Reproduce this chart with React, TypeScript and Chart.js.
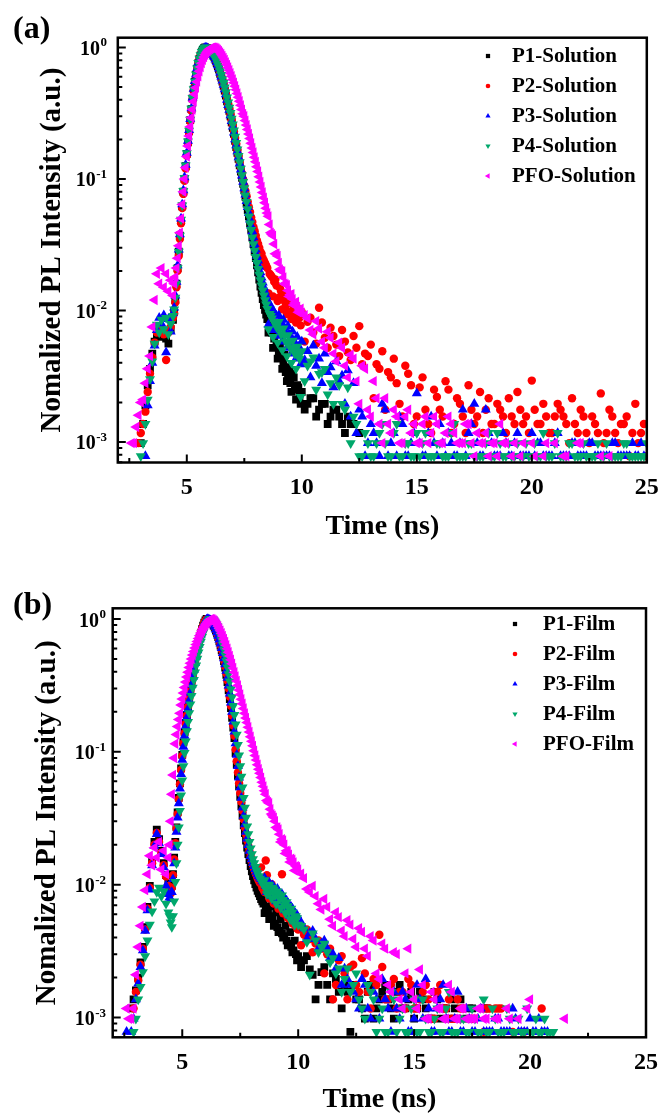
import React, { useEffect, useRef } from "react";
import { Chart, registerables } from "chart.js";

Chart.register(...registerables);

// ---------- quantised count levels of the photon-counting floor ----------
const _ = null;
const L4 = 0.00078;
const L5 = 0.00098;
const L6 = 0.00117;
const L7 = 0.00137;
const L8 = 0.00156;
const L9 = 0.00176;
const L10 = 0.00195;
const L11 = 0.00215;
const L12 = 0.00234;
const L15 = 0.00293;

// ---------- time channels (ns) ----------
const TIME = [
  2.6, 2.7, 2.8, 2.9, 3.0, 3.1, 3.2, 3.3, 3.4, 3.5, 3.6, 3.7, 3.8, 3.9, 4.0, 4.1, 4.2, 4.3, 4.4,
  4.45, 4.5, 4.55, 4.6, 4.65, 4.7, 4.75, 4.8, 4.85, 4.9,
  4.95, 5.0, 5.05, 5.1, 5.15, 5.2, 5.25, 5.3, 5.35, 5.4,
  5.45, 5.5, 5.55, 5.6, 5.65, 5.7, 5.75, 5.8, 5.85, 5.9,
  5.95, 6.0, 6.05, 6.1, 6.15, 6.2, 6.25, 6.3, 6.35, 6.4,
  6.45, 6.5, 6.55, 6.6, 6.65, 6.7, 6.75, 6.8, 6.85, 6.9,
  6.95, 7.0, 7.05, 7.1, 7.15, 7.2, 7.25, 7.3, 7.35, 7.4,
  7.45, 7.5, 7.55, 7.6, 7.65, 7.7, 7.75, 7.8, 7.85, 7.9,
  7.95, 8.0, 8.05, 8.1, 8.15, 8.2, 8.25, 8.3, 8.35, 8.4,
  8.45, 8.5,
  8.6, 8.7, 8.8, 8.9, 9.0, 9.1, 9.2, 9.3, 9.4, 9.5, 9.6, 9.7, 9.8, 9.9, 10.0,
  10.25, 10.5, 10.75, 11.0, 11.25, 11.5, 11.75, 12.0, 12.25, 12.5,
  12.75, 13.0, 13.25, 13.5, 13.75, 14.0, 14.25, 14.5, 14.75, 15.0,
  15.25, 15.5, 15.75, 16.0, 16.25, 16.5, 16.75, 17.0, 17.25, 17.5,
  17.75, 18.0, 18.25, 18.5, 18.75, 19.0, 19.25, 19.5, 19.75, 20.0,
  20.25, 20.5, 20.75, 21.0, 21.25, 21.5, 21.75, 22.0, 22.25, 22.5,
  22.75, 23.0, 23.25, 23.5, 23.75, 24.0, 24.25, 24.5, 24.75, 25.0,
];
// interleaved channels (between the ones above) in the decay and the tail
const TIME_EXTRA = [
  8.55, 8.65, 8.75, 8.85, 8.95, 9.05, 9.15, 9.25, 9.35, 9.45, 9.55, 9.65, 9.75, 9.85, 9.95,
  10.125, 10.375, 10.625, 10.875, 11.125, 11.375, 11.625, 11.875, 12.125, 12.375,
  12.625, 12.875, 13.125, 13.375, 13.625, 13.875, 14.125, 14.375, 14.625, 14.875,
  15.125, 15.375, 15.625, 15.875, 16.125, 16.375, 16.625, 16.875, 17.125, 17.375,
  17.625, 17.875, 18.125, 18.375, 18.625, 18.875, 19.125, 19.375, 19.625, 19.875,
  20.125, 20.375, 20.625, 20.875, 21.125, 21.375, 21.625, 21.875, 22.125, 22.375,
  22.625, 22.875, 23.125, 23.375, 23.625, 23.875, 24.125, 24.375, 24.625, 24.875,
];

// ---------- panel (a): solutions ----------
const P1_SOLUTION = [
  _, _, _, _, L5, L7, .0019, .0027, .0036, .0047, .0058, .0066, .0072, .0063, .0068, .0061, .0056, .0072, .0085,
  .0098, .012, .016, .021, .028, .037, .048, .062, .08, .1,
  .125, .155, .19, .23, .28, .34, .41, .48, .55, .62,
  .69, .76, .82, .87, .92, .96, .99, 1, .995, .985,
  .97, .95, .93, .9, .87, .84, .8, .76, .72, .68,
  .63, .59, .55, .51, .47, .43, .39, .36, .33, .3,
  .27, .245, .22, .195, .175, .158, .142, .127, .114, .102,
  .092, .082, .073, .065, .058, .052, .046, .041, .036, .032,
  .028, .025, .022, .0195, .0172, .0152, .0136, .0122, .011, .0101,
  .0093, .0086,
  .0076, .0068, .0061, .0055, .0049, .0044, .004, .0034, .0031, .0028, .0033, .0025, .0027, .0022, .0024,
  L10, L11, L9, L10, L8, L9, L7, L8, L7, L6,
  _, _, _, _, _, _, _, _, _, _,
  _, _, _, _, _, _, _, _, _, _,
  _, _, _, _, _, _, _, _, _, _,
  _, _, _, _, _, _, _, _, _, _,
  _, _, _, _, _, _, _, _, _, _,
];
const P1_SOLUTION_X = [
  .0068, .0082, .0052, .0066, .0043, .0055, .0036, .0046, .0029, .0037, .0024, .0031, .0021, .0026, L10,
  L9, L11, L8, L10, L7, L9, L8, L6, L7, _,
  _, _, _, _, _, _, _, _, _, _,
  _, _, _, _, _, _, _, _, _, _,
  _, _, _, _, _, _, _, _, _, _,
  _, _, _, _, _, _, _, _, _, _,
  _, _, _, _, _, _, _, _, _, _,
];
const P2_SOLUTION = [
  _, _, _, L5, L6, L7, .0017, .0024, .0033, .0044, .0057, .0068, .0075, .0071, .0066, .0042, .0068, .0075, .0088,
  .0095, .0115, .015, .02, .026, .035, .046, .06, .077, .097,
  .12, .15, .185, .225, .275, .33, .4, .47, .54, .61,
  .68, .75, .81, .865, .91, .95, .98, .995, 1, .99,
  .975, .955, .935, .91, .88, .85, .81, .77, .73, .69,
  .645, .6, .56, .52, .48, .44, .4, .37, .34, .31,
  .28, .255, .23, .205, .185, .167, .15, .135, .122, .11,
  .099, .089, .081, .074, .067, .061, .056, .051, .047, .043,
  .04, .037, .034, .032, .03, .028, .027, .025, .024, .023,
  .022, .021,
  .019, .018, .0165, .0155, .0125, .014, .012, .0108, .0125, .0098, .0112, .0092, .0105, .0088, .0097,
  .0082, .0068, .0105, .0062, .0074, .0055, .0071, .0048, .0064, .0076,
  .0047, .0055, .0039, .0049, .0034, .0043, L10, .0038, .0027, L8,
  .0031, L7, .0025, L9, .0029, L6, L11, L8, .0027, L7,
  .0024, L9, L7, L10, L8, L11, L7, L9, L8, L15,
  L7, L10, L6, L8, L9, L7, L11, L6, L8, L5,
  L7, L12, L6, L8, L5, L7, L4, L10, L6, L4,
];
const P2_SOLUTION_X = [
  .0135, .0185, .0128, .0172, .0118, .0148, .0102, .013, .0094, .0118, .0086, .0108, .0081, .0099, .0077,
  .0058, .0088, .0056, .0081, .0052, .0064, .0045, .0058, .0042, .0052,
  .0039, .0045, L11, .0036, L9, .0031, .0028, L8, .0033, L7,
  .0026, L9, L6, .0022, L8, .0025, L7, L10, L6, L9,
  L8, L6, L11, L7, L9, L6, L8, .0024, L7, L6,
  L9, L7, L8, L6, L10, L8, L5, L7, L9, L6,
  L8, L6, L5, L9, L6, L7, L8, L6, L5, L7,
];
const P3_SOLUTION = [
  _, _, _, _, _, _, L4, .0019, .0029, .004, .0054, .0071, .0088, .0079, .0092, .0048, .0086, .0069, .0095,
  .0105, .013, .0165, .022, .029, .038, .05, .064, .082, .103,
  .128, .158, .195, .235, .285, .345, .415, .485, .555, .625,
  .695, .765, .825, .875, .925, .96, .985, 1, .995, .985,
  .97, .952, .93, .905, .875, .845, .81, .77, .73, .69,
  .645, .6, .56, .52, .48, .44, .4, .365, .335, .305,
  .275, .25, .225, .2, .18, .162, .146, .131, .118, .106,
  .095, .085, .076, .068, .061, .055, .049, .044, .04, .036,
  .032, .029, .026, .024, .0215, .0195, .0178, .0163, .015, .0139,
  .0129, .012,
  .0112, .0104, .0097, .0091, .0092, .0078, .0085, .0068, .0076, .0062, .0069, .0056, .0063, .0052, .0058,
  .0049, .0054, .0043, .0047, .0037, .0041, .0032, .0035, .0028, L9,
  L4, L7, L5, L10, L4, L6, L8, L4, L5, L12,
  L4, L6, L5, L7, L4, L5, L4, L9, L6, L10,
  L4, L9, L5, L4, L6, L4, L5, L4, L4, L6,
  L5, L4, L4, L5, L4, L4, L5, L4, L4, L5,
  L4, L4, L4, L5, L4, L4, L4, L4, L5, L4,
];
const P3_SOLUTION_X = [
  .0078, .0101, .0071, .0092, .0064, .0083, .0058, .0074, .0052, .0066, .0047, .0059, .0043, .0053, .0039,
  .0042, .0031, .0038, .0028, .0034, .0026, .0029, L10, L8, L6,
  L8, L5, L6, L4, L9, L5, L4, L7, L4, L6,
  L5, L4, L8, L4, L5, L6, L4, L5, L4, L7,
  L5, L4, L6, L4, L4, L5, L4, L6, L4, L4,
  L4, L5, L4, L4, L6, L4, L4, L5, L4, L4,
  L5, L4, L4, L4, L5, L4, L4, L5, L4, L4,
];
const P4_SOLUTION = [
  _, _, _, _, L4, L5, L7, .0021, .003, .0041, .0056, .0078, .0068, .0085, .0072, .0088, .0066, .0079, .0091,
  .0102, .0125, .016, .021, .028, .037, .049, .063, .081, .102,
  .127, .157, .193, .233, .283, .343, .413, .483, .553, .623,
  .693, .763, .823, .875, .925, .962, .988, 1, .997, .988,
  .975, .958, .937, .912, .884, .853, .82, .783, .745, .705,
  .662, .62, .578, .537, .497, .457, .418, .382, .349, .318,
  .288, .26, .234, .21, .188, .168, .15, .134, .12, .107,
  .095, .085, .075, .067, .059, .052, .046, .041, .036, .032,
  .0285, .0255, .023, .0207, .0187, .017, .0155, .0142, .013, .012,
  .0111, .0103,
  .0094, .0087, .0081, .0075, .0082, .0066, .0073, .0058, .0065, .0052, .0059, .0047, .0053, .0043, .0049,
  .0038, .0044, .0033, .0036, .0028, .0031, L10, .0026, L8, L4,
  L6, L4, L5, L7, L4, L6, L4, L5, L4, L6,
  L5, L4, L4, L5, L4, L6, L4, L4, L5, L4,
  L4, L5, L4, L6, L4, L5, L4, L4, L5, L4,
  L4, L6, L4, L5, L4, L4, L5, L4, L5, L4,
  L4, L4, L5, L4, L4, L5, L4, L4, L4, L5,
];
const P4_SOLUTION_X = [
  .0072, .0091, .0063, .0082, .0057, .0072, .005, .0064, .0045, .0057, .004, .0051, .0036, .0046, .0022,
  .0029, .0041, .0025, .0034, .0023, L10, .0027, L9, L5, L7,
  L4, L5, L4, L6, L5, L4, L7, L4, L5, L4,
  L4, L6, L4, L5, L4, L4, L7, L4, L4, L5,
  L4, L4, L6, L4, L5, L4, L4, L5, L4, L4,
  L5, L4, L4, L4, L6, L4, L5, L4, L4, L4,
  L4, L5, L4, L4, L4, L4, L5, L4, L4, L4,
];
const PFO_SOLUTION = [
  L5, L5, .0013, .0016, .002, .0021, .0028, .0036, .0045, .0075, .012, .019, .016, .021, .015, .019, .014, .017, .013,
  .016, .018, .021, .025, .031, .039, .05, .064, .08, .1,
  .122, .148, .178, .212, .25, .292, .338, .388, .44, .495,
  .55, .605, .66, .71, .76, .805, .845, .88, .91, .935,
  .957, .975, .988, .996, 1, .998, .99, .978, .962, .942,
  .918, .892, .864, .834, .803, .771, .738, .705, .672, .638,
  .605, .572, .54, .508, .477, .447, .418, .39, .363, .337,
  .313, .3, .278, .257, .238, .22, .203, .187, .172, .159,
  .146, .135, .124, .114, .104, .095, .087, .079, .072, .066,
  .06, .055,
  .045, .038, .032, .027, .023, .02, .0178, .0158, .0142, .0132, .0122, .0114, .0107, .0101, .0096,
  .0087, .0066, .0073, .0052, .0062, .0041, .0052, .0031, .0043, L10,
  .0036, L8, L11, L5, L7, L9, L5, L8, L6, L5,
  L7, L5, L8, L5, L6, L7, L5, L5, L7, L4,
  L5, L6, L5, L4, L5, _, L5, L4, _, L5,
  _, L4, _, L5, _, L4, _, L5, _, _,
  _, L4, _, _, _, _, _, _, _, _,
];
const PFO_SOLUTION_X = [
  .052, .039, .037, .027, .026, .0205, .0198, .016, .0156, .0128, .0133, .011, .0116, .0097, .0103,
  .0092, .0071, .0083, .0058, .0069, .0047, .0057, .0038, .0046, .0029,
  .0038, L9, .0029, L7, L11, L6, L8, L5, L9, L7,
  L5, L8, L6, L7, L5, L8, L6, L5, L7, L5,
  L6, L5, L4, L5, L7, L5, L4, _, L5, _,
  L4, _, L5, _, _, L4, _, _, L5, _,
  _, _, _, L4, _, _, _, _, _, _,
];

// ---------- panel (b): films ----------
const P1_FILM = [
  _, _, L6, L7, .0016, .002, .0026, .0034, .0048, .0068, .0098, .015, .021, .026, .022, .018, .0145, .0118, .0102,
  .0093, .0089, .0098, .012, .016, .021, .027, .035, .045, .058,
  .075, .095, .118, .14, .165, .19, .22, .255, .29, .335,
  .38, .43, .48, .54, .6, .66, .72, .78, .84, .89,
  .94, .975, 1, .995, .985, .97, .95, .925, .895, .86,
  .82, .775, .73, .68, .63, .58, .53, .48, .43, .38,
  .335, .29, .25, .213, .18, .152, .127, .098, .08, .066,
  .055, .046, .039, .033, .028, .0245, .0215, .019, .017, .0153,
  .0138, .0126, .0116, .0108, .0101, .0095, .009, .0086, .0082, .0078,
  .0075, .0072,
  .0068, .0062, .0058, .0055, .0051, .0048, .0045, .0043, .0041, .0038, .0036, .0034, .0032, .003, .0029,
  .0027, .0023, L7, .0022, L9, L11, L8, L9, L4, L7,
  L6, L8, L5, L7, L9, L6, L8, L6, L7, L5,
  L8, L6, L5, L7, L6, L5, L6, L7, L5, L6,
  _, L6, _, _, _, _, _, _, _, _,
  _, _, _, _, _, _, _, _, _, _,
  _, _, _, _, _, _, _, _, _, _,
];
const P1_FILM_X = [
  .0061, .0079, .0055, .0069, .0049, .0062, .0044, .0055, .004, .0049, .0035, .0044, .0031, .0038, .0027,
  .0024, .0029, .0021, L9, .0024, L7, L10, L6, L8, L9,
  L7, L5, L9, L6, L8, L7, L5, L9, L6, L8,
  L6, L7, L5, L8, L5, L6, L7, L5, _, L6,
  _, _, L6, _, _, _, _, _, _, _,
  _, _, _, _, _, _, _, _, _, _,
  _, _, _, _, _, _, _, _, _, _,
];
const P2_FILM = [
  _, _, _, L6, L8, .0019, .0025, .0033, .0046, .0066, .0095, .0145, .02, .0245, .021, .0175, .014, .0115, .0098,
  .009, .0086, .0095, .0118, .0155, .0205, .0265, .034, .044, .057,
  .073, .093, .116, .138, .163, .188, .218, .252, .288, .332,
  .377, .427, .477, .537, .597, .657, .717, .777, .837, .887,
  .937, .972, .998, 1, .99, .975, .955, .93, .9, .866,
  .827, .783, .738, .689, .64, .59, .54, .49, .44, .39,
  .345, .3, .26, .222, .188, .158, .132, .104, .085, .07,
  .058, .049, .042, .036, .031, .027, .024, .0215, .0195, .0178,
  .0163, .015, .014, .0131, .0124, .0118, .0112, .0107, .0103, .0135,
  .0095, .0092,
  .0152, .0085, .0082, .0079, .0076, .0072, .0069, .012, .0063, .006, .0057, .0054, .0051, .0049, .0046,
  .0042, .0039, .0036, .0033, .003, L7, .0027, L11, .0024, L9,
  .0028, L8, L10, .0042, L7, L9, L6, L8, L10, L6,
  L7, L9, L5, L8, L6, L7, L5, L6, _, L5,
  _, L4, L6, L6, L6, _, L4, _, L4, _,
  _, L6, _, _, _, _, _, _, _, _,
  _, _, _, _, _, _, _, _, _, _,
];
const P2_FILM_X = [
  .0088, .0118, .0079, .0101, .0072, .0089, .0066, .0081, .0061, .0073, .0056, .0066, .0051, .0059, .0047,
  .0035, .0046, .0031, .0038, L11, .0033, L9, .0029, L7, .0025,
  L8, L11, L6, L9, .0024, L7, L10, L8, L6, L9,
  L6, L8, L7, L5, L9, L6, L5, L7, L6, _,
  L5, _, L6, _, L6, _, _, _, _, _,
  _, _, _, _, _, _, _, _, _, _,
  _, _, _, _, _, _, _, _, _, _,
];
const P3_FILM = [
  L4, _, L4, L5, L7, .0018, .0024, .0032, .0045, .0064, .0092, .014, .0195, .024, .0205, .017, .0135, .0098, .0085,
  .008, .0078, .0088, .011, .0145, .019, .025, .032, .041, .053,
  .068, .087, .109, .132, .156, .181, .21, .243, .278, .32,
  .365, .414, .465, .522, .582, .642, .703, .763, .823, .875,
  .927, .965, .992, 1, .993, .978, .958, .934, .905, .872,
  .834, .792, .748, .7, .652, .603, .554, .505, .456, .407,
  .36, .315, .274, .235, .2, .169, .142, .116, .095, .078,
  .064, .054, .045, .038, .033, .0285, .025, .0222, .0199, .018,
  .0164, .0155, .0146, .0138, .0131, .0125, .012, .0116, .0113, .011,
  .0107, .0104,
  .0098, .0105, .0092, .0099, .0087, .0093, .008, .0085, .0072, .0076, .0064, .0068, .0057, .006, .0051,
  .0047, .0043, .0039, .0036, .0033, .003, .0028, L12, L9, L7,
  L10, L6, L8, L5, L7, L4, L6, L8, L4, L5,
  L7, L10, L4, L6, L9, L4, L5, L4, L6, L4,
  L5, L4, L4, L5, L4, L4, L6, L4, L4, L5,
  L4, L4, L4, _, _, _, _, _, _, _,
  _, _, _, _, _, _, _, _, _, _,
];
const P3_FILM_X = [
  .0112, .0088, .0104, .0082, .0096, .0075, .0089, .007, .0081, .0064, .0073, .0058, .0066, .0053, .0059,
  .0052, .0039, .0045, .0033, .0038, .0028, L12, L9, L10, L8,
  L6, L9, L5, L7, L10, L6, L8, L5, L7, L4,
  L9, L5, L6, L4, L7, L5, L4, L8, L4, L5,
  L4, L6, L4, L4, L5, L4, L4, L5, L4, L4,
  L4, L5, L4, _, _, _, _, _, _, _,
  _, _, _, _, _, _, _, _, _, _,
];
const P4_FILM = [
  _, _, _, L4, L5, L7, .0017, .0022, .0029, .0038, .005, .0063, .0075, .0088, .0095, .0082, .0089, .0072, .0062,
  .0058, .0052, .0048, .0058, .0075, .0105, .0145, .02, .027, .036,
  .047, .061, .078, .098, .12, .143, .168, .196, .228, .264,
  .304, .348, .396, .448, .503, .56, .618, .676, .733, .787,
  .837, .882, .92, .952, .976, .992, 1, .995, .98, .955,
  .923, .885, .842, .795, .745, .693, .64, .587, .534, .482,
  .432, .384, .339, .297, .258, .222, .19, .161, .135, .113,
  .094, .078, .065, .054, .045, .038, .032, .0275, .024, .021,
  .0188, .017, .0156, .0145, .0136, .0128, .0122, .0116, .0111, .0107,
  .0103, .0099,
  .0094, .01, .0088, .0095, .0083, .0089, .0078, .0083, .007, .0074, .0062, .0066, .0055, .0058, .005,
  .0046, .0021, .0038, .0034, .0031, .0028, L12, L10, L8, L11,
  L6, L9, L7, L5, L4, L8, L4, L6, L4, L7,
  L4, L5, L4, L6, L4, L8, L4, L5, L4, L6,
  L4, L7, L4, L5, L4, L6, L4, L5, L4, L4,
  L5, L4, L4, L4, _, _, _, _, _, _,
  _, _, _, _, _, _, _, _, _, _,
];
const P4_FILM_X = [
  .0108, .0085, .0099, .0079, .0092, .0072, .0085, .0067, .0077, .0061, .0069, .0055, .0062, .005, .0056,
  .0049, .0037, .0043, .0031, .0036, .0026, L11, L8, L12, L9,
  L7, L5, L8, L4, L6, L4, L7, L5, L4, L6,
  L4, L7, L4, L5, L4, L6, L4, L4, L5, L4,
  L5, L4, L4, L6, L4, L4, L5, L4, L4, L6,
  L4, L4, L5, L4, _, _, _, _, _, _,
  _, _, _, _, _, _, _, _, _, _,
];
const PFO_FILM = [
  L6, L5, L5, L6, .0021, .0034, .0049, .0068, .0091, .012, .0165, .014, .019, .016, .021, .013, .018, .012, .016,
  .02, .03, .048, .067, .09, .115, .135, .155, .175, .195,
  .225, .25, .277, .305, .335, .366, .398, .431, .465, .5,
  .535, .57, .606, .642, .678, .714, .749, .783, .816, .847,
  .876, .903, .928, .951, .972, .99, 1, .995, .983, .967,
  .94, .912, .882, .85, .816, .781, .745, .708, .671, .634,
  .598, .562, .527, .493, .46, .428, .398, .369, .342, .316,
  .292, .27, .249, .23, .212, .195, .18, .166, .153, .141,
  .13, .12, .111, .102, .094, .087, .08, .074, .069, .064,
  .059, .055,
  .048, .042, .037, .033, .03, .027, .024, .022, .02, .018, .0168, .0157, .0147, .0138, .013,
  .0112, .0088, .0082, .0065, .0068, .0049, .0057, .0041, .005, .0034,
  .0044, .0029, .0038, L10, .0033, L8, .003, L6, .0033, L7,
  .0023, L5, L8, L6, L5, L9, L5, L6, L5, L5,
  L6, L5, _, L5, _, L6, _, L5, _, L7,
  _, _, _, _, _, L5, _, _, _, _,
  _, _, _, _, _, _, _, _, _, _,
];
const PFO_FILM_X = [
  .051, .043, .041, .034, .032, .027, .026, .021, .0215, .0172, .0178, .0148, .0154, .0128, .0136,
  .0121, .0093, .0098, .0072, .0078, .0055, .0062, .0045, .0054, .0039,
  .0047, .0033, .0041, L11, .0036, L9, .0031, L7, L11, L8,
  L6, L9, L5, L7, L6, L5, L8, L5, L6, L5,
  L5, L6, L5, _, L5, _, L5, _, _, L6,
  _, _, _, _, _, _, _, _, _, _,
  _, _, _, _, _, _, _, _, _, _,
];

const NAMES_A = ["P1-Solution", "P2-Solution", "P3-Solution", "P4-Solution", "PFO-Solution"];
const NAMES_B = ["P1-Film", "P2-Film", "P3-Film", "P4-Film", "PFO-Film"];
const X_MAJOR_TICKS = [5, 10, 15, 20, 25];
const X_MINOR_TICKS = [2.5, 7.5, 12.5, 17.5, 22.5];
const Y_DECADES = [-3, -2, -1, 0];
const X_TITLE = "Time (ns)";
const Y_TITLE = "Nomalized PL Intensity (a.u.)";

// ---------- styles ----------
const COLORS = ["#000000", "#ff0000", "#0000ff", "#00a86b", "#ff00ff"];
const POINT_STYLES = ["rect", "circle", "triangle", "triangle", "triangle"];
const POINT_ROTATIONS = [0, 0, 0, 180, 270];
const POINT_RADII = [5.5, 4.2, 5.8, 5.8, 6];
const LEGEND_RADII = [3, 2.3, 3, 3, 3.2];
const FONT = '"Liberation Serif", "Times New Roman", Times, serif';

type PanelConfig = {
  height: number;
  area: { left: number; top: number; right: number; bottom: number };
  yMin: number;
  yMax: number;
  label: string;
  labelBaseline: number;
  names: string[];
  series: (number | null)[][];
  extra: (number | null)[][];
  legendMarkerX: number;
  legendTextX: number;
  legendY0: number;
  yTitleBaseX: number;
  yTickRight: number;
  xTickLabelDy: number;
  xTitleDy: number;
};

const PANEL_A: PanelConfig = {
  height: 555,
  area: { left: 117.8, top: 37.7, right: 646.8, bottom: 462.5 },
  yMin: 6.98e-4,
  yMax: 1.187,
  label: "(a)",
  labelBaseline: 38,
  names: NAMES_A,
  series: [P1_SOLUTION, P2_SOLUTION, P3_SOLUTION, P4_SOLUTION, PFO_SOLUTION],
  extra: [P1_SOLUTION_X, P2_SOLUTION_X, P3_SOLUTION_X, P4_SOLUTION_X, PFO_SOLUTION_X],
  legendMarkerX: 488,
  legendTextX: 512,
  legendY0: 56,
  yTitleBaseX: 60,
  yTickRight: 107,
  xTickLabelDy: 25.5,
  xTitleDy: 64,
};

const PANEL_B: PanelConfig = {
  height: 560,
  area: { left: 112.7, top: 53.3, right: 646, bottom: 482.3 },
  yMin: 7.1e-4,
  yMax: 1.204,
  label: "(b)",
  labelBaseline: 59,
  names: NAMES_B,
  series: [P1_FILM, P2_FILM, P3_FILM, P4_FILM, PFO_FILM],
  extra: [P1_FILM_X, P2_FILM_X, P3_FILM_X, P4_FILM_X, PFO_FILM_X],
  legendMarkerX: 515,
  legendTextX: 543,
  legendY0: 69,
  yTitleBaseX: 55,
  yTickRight: 106,
  xTickLabelDy: 25,
  xTitleDy: 62,
};

function toPoints(times: number[], values: (number | null)[]) {
  const n = Math.min(values.length, times.length);
  const pts: { x: number; y: number }[] = [];
  for (let i = 0; i < n; i++) {
    const v = values[i];
    if (v !== null && v !== undefined) pts.push({ x: times[i], y: v });
  }
  return pts;
}

function drawMarker(ctx: CanvasRenderingContext2D, style: string, rot: number, x: number, y: number, r: number, color: string) {
  ctx.save();
  ctx.fillStyle = color;
  ctx.beginPath();
  if (style === "rect") {
    const s = r * Math.SQRT1_2;
    ctx.rect(x - s, y - s, 2 * s, 2 * s);
  } else if (style === "circle") {
    ctx.arc(x, y, r, 0, Math.PI * 2);
  } else {
    let rad = (rot * Math.PI) / 180;
    ctx.moveTo(x + Math.sin(rad) * r, y - Math.cos(rad) * r);
    rad += (2 * Math.PI) / 3;
    ctx.lineTo(x + Math.sin(rad) * r, y - Math.cos(rad) * r);
    rad += (2 * Math.PI) / 3;
    ctx.lineTo(x + Math.sin(rad) * r, y - Math.cos(rad) * r);
    ctx.closePath();
  }
  ctx.fill();
  ctx.restore();
}

function makeDecor(cfg: PanelConfig) {
  return {
    id: "decor",
    afterDraw(chart: any) {
      const ctx: CanvasRenderingContext2D = chart.ctx;
      const a = chart.chartArea;
      const xs = chart.scales.x;
      const ys = chart.scales.y;
      ctx.save();
      ctx.strokeStyle = "#000";
      ctx.fillStyle = "#000";

      // ticks (inward)
      ctx.lineWidth = 2;
      ctx.beginPath();
      for (const v of X_MAJOR_TICKS) {
        const px = xs.getPixelForValue(v);
        ctx.moveTo(px, a.bottom);
        ctx.lineTo(px, a.bottom - 8);
      }
      for (const v of X_MINOR_TICKS) {
        const px = xs.getPixelForValue(v);
        ctx.moveTo(px, a.bottom);
        ctx.lineTo(px, a.bottom - 4.5);
      }
      for (let d = -4; d <= 0; d++) {
        const base = Math.pow(10, d);
        if (base >= cfg.yMin && base <= cfg.yMax) {
          const py = ys.getPixelForValue(base);
          ctx.moveTo(a.left, py);
          ctx.lineTo(a.left + 8, py);
        }
        for (let m = 2; m <= 9; m++) {
          const v = m * base;
          if (v < cfg.yMin || v > cfg.yMax) continue;
          const py = ys.getPixelForValue(v);
          ctx.moveTo(a.left, py);
          ctx.lineTo(a.left + 4.5, py);
        }
      }
      ctx.stroke();

      // frame
      ctx.lineWidth = 2.5;
      ctx.strokeRect(a.left, a.top, a.right - a.left, a.bottom - a.top);

      // y tick labels 10^n
      ctx.textAlign = "right";
      ctx.textBaseline = "alphabetic";
      for (const d of Y_DECADES) {
        const py = ys.getPixelForValue(Math.pow(10, d));
        const exp = d === 0 ? "0" : "-" + Math.abs(d);
        ctx.font = `bold 13px ${FONT}`;
        const ew = ctx.measureText(exp).width;
        ctx.fillText(exp, cfg.yTickRight, py - 1);
        ctx.font = `bold 20px ${FONT}`;
        ctx.fillText("10", cfg.yTickRight - ew - 0.5, py + 7.5);
      }

      // x tick labels
      ctx.font = `bold 24px ${FONT}`;
      ctx.textAlign = "center";
      ctx.textBaseline = "middle";
      for (const v of X_MAJOR_TICKS) {
        ctx.fillText(String(v), xs.getPixelForValue(v), a.bottom + cfg.xTickLabelDy);
      }

      // x title
      ctx.font = `bold 28px ${FONT}`;
      ctx.fillText(X_TITLE, (a.left + a.right) / 2, a.bottom + cfg.xTitleDy);

      // y title
      ctx.save();
      ctx.translate(cfg.yTitleBaseX, (a.top + a.bottom) / 2);
      ctx.rotate(-Math.PI / 2);
      ctx.textAlign = "center";
      ctx.textBaseline = "alphabetic";
      ctx.font = `bold 29px ${FONT}`;
      ctx.fillText(Y_TITLE, 0, 0);
      ctx.restore();

      // panel label
      ctx.font = `bold 32px ${FONT}`;
      ctx.textAlign = "left";
      ctx.textBaseline = "alphabetic";
      ctx.fillText(cfg.label, 13, cfg.labelBaseline);

      // legend
      ctx.font = `bold 21px ${FONT}`;
      ctx.textBaseline = "middle";
      cfg.names.forEach((name, i) => {
        const y = cfg.legendY0 + i * 30;
        drawMarker(ctx, POINT_STYLES[i], POINT_ROTATIONS[i], cfg.legendMarkerX, y, LEGEND_RADII[i], COLORS[i]);
        ctx.fillStyle = "#000";
        ctx.fillText(name, cfg.legendTextX, y + 1);
      });

      ctx.restore();
    },
  };
}

function Panel({ cfg }: { cfg: PanelConfig }) {
  const ref = useRef<HTMLCanvasElement | null>(null);
  useEffect(() => {
    const canvas = ref.current;
    if (!canvas) return;
    const a = cfg.area;
    const W = 660;
    const H = cfg.height;
    const chart = new Chart(canvas, {
      type: "scatter",
      data: {
        datasets: cfg.series.map((vals, i) => ({
          label: cfg.names[i],
          data: toPoints(TIME, vals).concat(toPoints(TIME_EXTRA, cfg.extra[i])),
          pointStyle: POINT_STYLES[i] as any,
          pointRotation: POINT_ROTATIONS[i],
          pointRadius: POINT_RADII[i],
          pointHoverRadius: POINT_RADII[i],
          pointBackgroundColor: COLORS[i],
          pointBorderColor: COLORS[i],
          pointBorderWidth: 0,
          backgroundColor: COLORS[i],
          borderColor: COLORS[i],
          showLine: false,
          order: cfg.series.length - i,
        })),
      },
      options: {
        responsive: false,
        animation: false,
        devicePixelRatio: 1,
        events: [],
        layout: { padding: { top: a.top, right: W - a.right, left: 0, bottom: 0 } },
        plugins: {
          legend: { display: false },
          tooltip: { enabled: false },
          title: { display: false },
        },
        scales: {
          x: {
            type: "linear",
            min: 2,
            max: 25,
            ticks: { display: false },
            grid: { display: false },
            border: { display: false },
            afterFit: (s: any) => {
              s.height = H - a.bottom;
            },
          },
          y: {
            type: "logarithmic",
            min: cfg.yMin,
            max: cfg.yMax,
            ticks: { display: false },
            grid: { display: false },
            border: { display: false },
            afterFit: (s: any) => {
              s.width = a.left;
            },
          },
        },
      } as any,
      plugins: [makeDecor(cfg) as any],
    });
    return () => chart.destroy();
  }, [cfg]);
  return (
    <canvas
      ref={ref}
      width={660}
      height={cfg.height}
      style={{ display: "block", width: 660, height: cfg.height }}
    />
  );
}

export default function App() {
  return (
    <div style={{ position: "absolute", left: 0, top: 0, width: 660, height: 1115, background: "#ffffff" }}>
      <Panel cfg={PANEL_A} />
      <Panel cfg={PANEL_B} />
    </div>
  );
}
